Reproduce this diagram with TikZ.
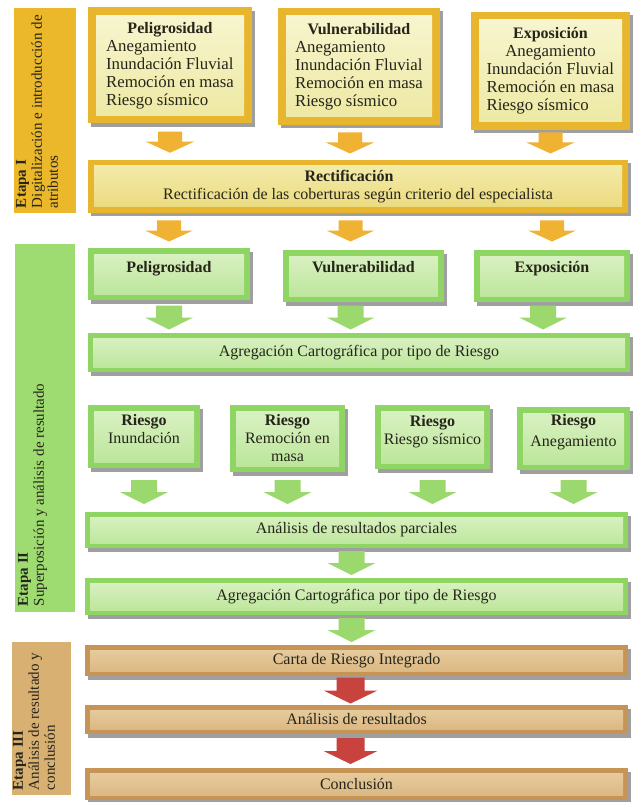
\documentclass[tikz,border=0pt]{standalone}
\usepackage{fontspec}
\setmainfont{Liberation Serif}
\usetikzlibrary{shadows,calc}
\definecolor{ink}{HTML}{26251A}
\definecolor{goldO}{HTML}{E7B62E}
\definecolor{goldI}{HTML}{EDE8A0}
\definecolor{goldI2}{HTML}{F8F6D2}
\definecolor{rectI}{HTML}{EAD878}
\definecolor{rectI2}{HTML}{F4EDB0}
\definecolor{goldBar}{HTML}{EBB82C}
\definecolor{grnO}{HTML}{8ED563}
\definecolor{grnI}{HTML}{B9E597}
\definecolor{grnI2}{HTML}{DCF2C6}
\definecolor{grnBar}{HTML}{9EDC72}
\definecolor{brnO}{HTML}{C69455}
\definecolor{brnI}{HTML}{D9B47E}
\definecolor{brnI2}{HTML}{E9CFA2}
\definecolor{brnBar}{HTML}{D8B072}
\definecolor{redA}{HTML}{C8423E}
\definecolor{yelA}{HTML}{F0B232}
\definecolor{grnA}{HTML}{9BD86E}
\tikzset{
  inset/.store in=\boxinset, inset=6pt,
  shadowed/.style={drop shadow={shadow xshift=2.5pt,shadow yshift=-3.5pt,fill=black!75,opacity=.5}},
  framebase/.style={shadowed, inner sep=0pt, align=center, text=ink},
  ybox/.style={framebase, fill=goldO,
    path picture={\shade[top color=goldI2,bottom color=goldI]
      ([shift={(\boxinset,\boxinset)}]path picture bounding box.south west) rectangle
      ([shift={(-\boxinset,-\boxinset)}]path picture bounding box.north east);}},
  rbox/.style={framebase, fill=goldO,
    path picture={\shade[top color=rectI2,bottom color=rectI]
      ([shift={(\boxinset,\boxinset)}]path picture bounding box.south west) rectangle
      ([shift={(-\boxinset,-\boxinset)}]path picture bounding box.north east);}},
  gbox/.style={framebase, fill=grnO,
    path picture={\shade[top color=grnI2,bottom color=grnI]
      ([shift={(\boxinset,\boxinset)}]path picture bounding box.south west) rectangle
      ([shift={(-\boxinset,-\boxinset)}]path picture bounding box.north east);}},
  bbox/.style={framebase, fill=brnO,
    path picture={\shade[top color=brnI2,bottom color=brnI]
      ([shift={(\boxinset,\boxinset)}]path picture bounding box.south west) rectangle
      ([shift={(-\boxinset,-\boxinset)}]path picture bounding box.north east);}},
  stagebar/.style={inner sep=0pt, draw=none},
  stagetxt/.style={rotate=90, anchor=north west, align=left, inner sep=0pt, text=ink,
    font=\fontsize{15}{16}\selectfont},
  boxtxt/.style={anchor=north, align=center, inner sep=0pt, text=ink},
  pics/yarrow/.style={code={\fill[#1] (-12,-10) -- (12,-10) -- (12,0) -- (24,0) -- (0,11) -- (-24,0) -- (-12,0) -- cycle;}},
  pics/garrow/.style={code={\fill[#1] (-13,-12) -- (13,-12) -- (13,0) -- (24,0) -- (0,12) -- (-24,0) -- (-13,0) -- cycle;}},
  pics/rarrow/.style={code={\fill[#1] (-14,-13) -- (14,-13) -- (14,0) -- (27,0) -- (0,13) -- (-27,0) -- (-14,0) -- cycle;}},
}
\newcommand\itemfont{\fontsize{16.8}{18}\selectfont}
\begin{document}
\begin{tikzpicture}[x=1pt,y=-1pt,font=\fontsize{16}{18}\selectfont]
\useasboundingbox[fill=white] (0,0) rectangle (633,802);

% ---------- stage bars ----------
\node[stagebar, fill=goldBar, minimum width=62pt, minimum height=205pt] (e1) at (45,110.5) {};
\node[stagetxt] (e1t) at ([shift={(2pt,5pt)}]e1.south west) {\textbf{Etapa I}\\Digitalización e introducción de\\atributos};
\node[stagebar, fill=grnBar, minimum width=60pt, minimum height=368pt] (e2) at (45,428) {};
\node[stagetxt] (e2t) at ([shift={(3pt,6pt)}]e2.south west) {\textbf{Etapa II}\\Superposición y análisis de resultado};
\node[stagebar, fill=brnBar, minimum width=59pt, minimum height=153pt] (e3) at (41.5,718.5) {};
\node[stagetxt] (e3t) at ([shift={(1pt,5pt)}]e3.south west) {\textbf{Etapa III}\\Análisis de resultado y\\conclusión};

% ---------- Etapa I ----------
\node[ybox, inset=8pt, minimum width=164pt, minimum height=116pt] (tp) at (170,65.5)
  {\itemfont\begin{tabular}{@{}l@{}}\multicolumn{1}{@{}c@{}}{\fontsize{16}{18}\selectfont\textbf{Peligrosidad}}\\Anegamiento\\Inundación Fluvial\\Remoción en masa\\Riesgo sísmico\end{tabular}};
\node[ybox, inset=8pt, minimum width=162pt, minimum height=117pt] (tv) at (359,66.5)
  {\itemfont\begin{tabular}{@{}l@{}}\multicolumn{1}{@{}c@{}}{\fontsize{16}{18}\selectfont\textbf{Vulnerabilidad}}\\Anegamiento\\Inundación Fluvial\\Remoción en masa\\Riesgo sísmico\end{tabular}};
\node[ybox, inset=8pt, minimum width=159pt, minimum height=118pt] (te) at (550.5,71)
  {\itemfont\begin{tabular}{@{}l@{}}\multicolumn{1}{@{}c@{}}{\fontsize{16}{18}\selectfont\textbf{Exposición}}\\\multicolumn{1}{@{}c@{}}{Anegamiento}\\Inundación Fluvial\\Remoción en masa\\Riesgo sísmico\end{tabular}};

\node[rbox, inset=6pt, minimum width=540pt, minimum height=53pt] (rb) at (358,186.5)
  {\hspace*{-18pt}\textbf{Rectificación}\\Rectificación de las coberturas según criterio del especialista};

\pic at ($(tp.south)!.5!(tp.south|-rb.north)$) {yarrow=yelA};
\pic[xshift=-9pt] at ($(tv.south)!.5!(tv.south|-rb.north)$) {yarrow=yelA};
\pic at ($(te.south|-tv.south)!.5!(te.south|-rb.north)$) {yarrow=yelA};

% ---------- Etapa II ----------
\node[gbox, inset=6pt, minimum width=162pt, minimum height=52pt] (gp) at (169,274) {};
\node[boxtxt] (gpt) at ([yshift=-13pt]gp.north) {\textbf{Peligrosidad}};
\node[gbox, inset=6pt, minimum width=161pt, minimum height=52pt] (gv) at (363.5,276) {};
\node[boxtxt] (gvt) at ([yshift=-11pt]gv.north) {\textbf{Vulnerabilidad}};
\node[gbox, inset=6pt, minimum width=156pt, minimum height=52pt] (ge) at (552,276) {};
\node[boxtxt] (get) at ([yshift=-11pt]ge.north) {\textbf{Exposición}};

\pic at ($(gp.north|-rb.south)!.5!(gp.north)$) {yarrow=yelA};
\pic[xshift=-13pt] at ($(gv.north|-rb.south)!.5!(gv.north|-gp.north)$) {yarrow=yelA};
\pic at ($(ge.north|-rb.south)!.5!(ge.north|-gp.north)$) {yarrow=yelA};

\node[gbox, inset=5pt, minimum width=542pt, minimum height=39pt] (ag1) at (359,352.5)
  {Agregación Cartográfica por tipo de Riesgo};

\pic at ($(gp.south|-ge.south)!.5!(gp.south|-ag1.north)$) {garrow=grnA};
\pic[xshift=-13pt] at ($(gv.south)!.5!(gv.south|-ag1.north)$) {garrow=grnA};
\pic[xshift=-9pt] at ($(ge.south)!.5!(ge.south|-ag1.north)$) {garrow=grnA};

\node[gbox, inset=6pt, minimum width=112pt, minimum height=63pt] (rin) at (144,436.5) {};
\node[boxtxt] (rint) at ([yshift=-9pt]rin.north) {\textbf{Riesgo}\\Inundación};
\node[gbox, inset=6pt, minimum width=115pt, minimum height=67pt] (rrm) at (287.5,438.5) {};
\node[boxtxt] (rrmt) at ([yshift=-9pt]rrm.north) {\textbf{Riesgo}\\Remoción en\\masa};
\node[gbox, inset=6pt, minimum width=115pt, minimum height=64pt] (rrs) at (432.5,437) {};
\node[boxtxt] (rrst) at ([yshift=-10pt]rrs.north) {\textbf{Riesgo}\\Riesgo sísmico};
\node[gbox, inset=6pt, minimum width=113pt, minimum height=63pt] (ran) at (573.5,438.5) {};
\node[boxtxt] (rant) at ([yshift=-7pt]ran.north) {\textbf{Riesgo}\\[3pt]Anegamiento};

\node[gbox, inset=5pt, minimum width=543pt, minimum height=36pt] (ap) at (356.5,530)
  {Análisis de resultados parciales};

\pic at ($(rin.south|-rrm.south)!.5!(rin.south|-ap.north)$) {garrow=grnA};
\pic at ($(rrm.south)!.5!(rrm.south|-ap.north)$) {garrow=grnA};
\pic at ($(rrs.south|-rrm.south)!.5!(rrs.south|-ap.north)$) {garrow=grnA};
\pic at ($(ran.south|-rrm.south)!.5!(ran.south|-ap.north)$) {garrow=grnA};

\node[gbox, inset=5pt, minimum width=543pt, minimum height=37pt] (ag2) at (356.5,596.5)
  {Agregación Cartográfica por tipo de Riesgo};
\pic[xshift=-5pt] at ($(ap.south)!.5!(ag2.north)$) {garrow=grnA};

% ---------- Etapa III ----------
\node[bbox, inset=5pt, minimum width=543pt, minimum height=31pt] (cr) at (356.5,660.5)
  {Carta de Riesgo Integrado};
\pic[xshift=-5pt] at ($(ag2.south)!.5!(cr.north)$) {garrow=grnA};

\node[bbox, inset=5pt, minimum width=543pt, minimum height=29pt] (ar) at (356.5,719.5)
  {Análisis de resultados};
\pic[xshift=-6pt] at ($(cr.south)!.5!(ar.north)$) {rarrow=redA};

\node[bbox, inset=5pt, minimum width=543pt, minimum height=32pt] (co) at (356.5,784)
  {Conclusión};
\pic[xshift=-6pt] at ($(ar.south)!.5!(co.north)$) {rarrow=redA};
\end{tikzpicture}
\end{document}
